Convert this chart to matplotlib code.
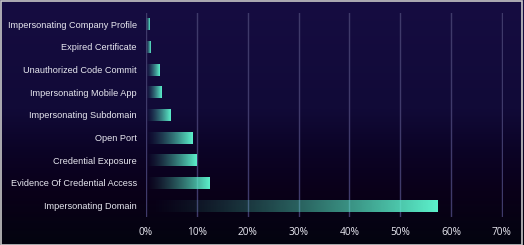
import numpy as np
import matplotlib
matplotlib.use("Agg")
import matplotlib.pyplot as plt
from matplotlib.colors import LinearSegmentedColormap, to_rgb
from matplotlib.patches import Rectangle

# data, top to bottom as shown
categories = [
    "Impersonating Company Profile",
    "Expired Certificate",
    "Unauthorized Code Commit",
    "Impersonating Mobile App",
    "Impersonating Subdomain",
    "Open Port",
    "Credential Exposure",
    "Evidence Of Credential Access",
    "Impersonating Domain",
]
values = [0.007, 0.009, 0.027, 0.031, 0.048, 0.092, 0.100, 0.125, 0.573]
xticks = [0, 0.1, 0.2, 0.3, 0.4, 0.5, 0.6, 0.7]
xtick_labels = ["0%", "10%", "20%", "30%", "40%", "50%", "60%", "70%"]

bar_color = "#5cf2cc"
bar_height = 0.52

fig = plt.figure(figsize=(5.24, 2.45), dpi=100)

# background gradient over whole figure
bg_ax = fig.add_axes([0, 0, 1, 1], zorder=0)
bg_cmap = LinearSegmentedColormap.from_list(
    "bg",
    [(0.0, "#160d42"), (0.45, "#110a37"), (0.6, "#0c0428"),
     (0.78, "#0a0019"), (1.0, "#03040f")],
)
grad = np.linspace(0, 1, 256).reshape(-1, 1)
bg_ax.imshow(grad, aspect="auto", cmap=bg_cmap, extent=[0, 1, 0, 1])
bg_ax.set_axis_off()
bg_ax.add_patch(Rectangle((0.001, 0.002), 0.995, 0.994, transform=bg_ax.transAxes,
                          fill=False, edgecolor="#c8c8c8", linewidth=1.2))

ax = fig.add_axes([146 / 524, 1 - 217 / 245, (503 - 146) / 524, (217 - 13) / 245], zorder=1)
ax.patch.set_alpha(0)

ypos = np.arange(len(categories))
rgb = np.array(to_rgb(bar_color))
ramp = np.linspace(0.0, 1.0, 256) ** 1.4
img = np.zeros((1, 256, 4))
img[0, :, :3] = rgb
img[0, :, 3] = ramp

for y, v in zip(ypos, values):
    ax.imshow(img, aspect="auto", interpolation="bilinear",
              extent=[0, v, y + bar_height / 2, y - bar_height / 2], zorder=3)

ax.set_xlim(0, 0.702)
ax.set_ylim(len(categories) - 0.5, -0.5)
ax.set_yticks(ypos)
ax.set_yticklabels(categories, fontsize=6.6, color="#e8e8f0", family="Liberation Sans")
ax.set_xticks(xticks)
ax.set_xticklabels(xtick_labels, fontsize=7.3, color="#e8e8f0", family="Open Sans")
ax.tick_params(axis="both", length=0)
ax.tick_params(axis="y", pad=6.5)
ax.tick_params(axis="x", pad=7)

ax.grid(axis="x", color="#3f3a6a", linewidth=1.0, zorder=1)
ax.set_axisbelow(True)
for s in ax.spines.values():
    s.set_visible(False)

fig.savefig("out.png", dpi=100)
